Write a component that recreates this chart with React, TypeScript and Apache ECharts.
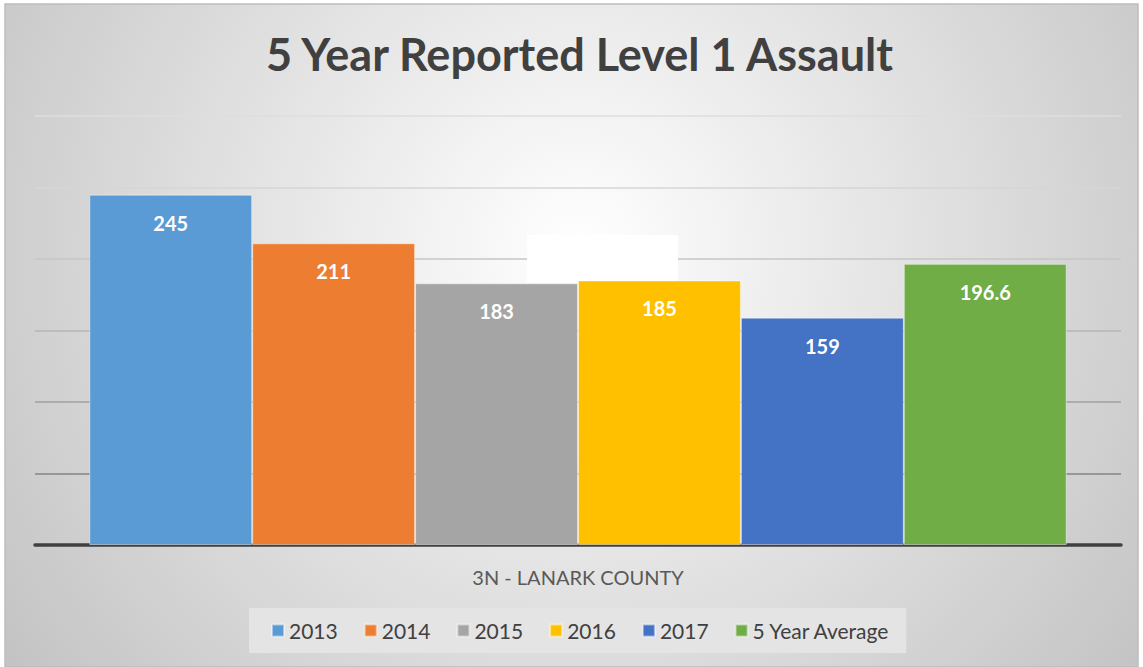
import React, { useEffect, useRef } from "react";
import * as echarts from "echarts";

const categories = ["3N - LANARK COUNTY"];
const seriesNames = ["2013", "2014", "2015", "2016", "2017", "5 Year Average"];
const seriesValues = [245, 211, 183, 185, 159, 196.6];
const seriesColors = ["#5b9bd5", "#ed7d31", "#a5a5a5", "#ffc000", "#4472c4", "#70ad47"];
const gridLineColors = ["#808080", "#848484", "#a0a0a0", "#b6b6b6", "#c6c6c6", "#d6d6d6", "#dedede"];

export default function App() {
  const ref = useRef<HTMLDivElement>(null);
  useEffect(() => {
    if (!ref.current) return;
    const chart = echarts.init(ref.current, undefined, { renderer: "svg" });
    const option: any = {
      animation: false,
      backgroundColor: "#ffffff",
      title: {
        text: "5 Year Reported Level 1 Assault",
        left: 261,
        top: 26,
        textStyle: { fontFamily: "Lato", fontWeight: "bold", fontSize: 45, color: "#404040" },
      },
      graphic: [
        {
          type: "rect",
          z: -10,
          shape: { x: 5, y: 4, width: 1133, height: 663 },
          style: {
            fill: {
              type: "radial",
              x: 578,
              y: 250,
              r: 720,
              global: true,
              colorStops: [
                { offset: 0, color: "#ffffff" },
                { offset: 1, color: "#c2c2c2" },
              ],
            },
            stroke: "#bdbdbd",
            lineWidth: 1.5,
          },
        },
        {
          type: "rect",
          z: 1,
          shape: { x: 527, y: 235, width: 151, height: 48 },
          style: { fill: "#ffffff" },
        },
      ],
      legend: {
        data: seriesNames,
        bottom: 14,
        left: 249,
        icon: "rect",
        itemWidth: 12,
        itemHeight: 12,
        itemGap: 26,
        padding: [12, 16, 12, 22],
        backgroundColor: "#e4e4e4",
        textStyle: { fontFamily: "Lato", fontSize: 21, color: "#404040" },
      },
      grid: { left: 35, right: 22, top: 116, bottom: 122 },
      xAxis: {
        type: "category",
        data: categories,
        axisLine: { show: true, lineStyle: { color: "#404040", width: 3.5 } },
        axisTick: { show: false },
        axisLabel: { margin: 22, fontFamily: "Lato", fontSize: 20, color: "#595959" },
      },
      yAxis: {
        type: "value",
        min: 0,
        max: 300,
        interval: 50,
        axisLine: { show: false },
        axisTick: { show: false },
        axisLabel: { show: false },
        splitLine: { show: true, lineStyle: { color: gridLineColors, width: 1.5 } },
      },
      series: seriesNames.map((name, i) => ({
        name,
        type: "bar",
        data: [seriesValues[i]],
        barGap: "0%",
        barCategoryGap: "10%",
        itemStyle: { color: seriesColors[i], borderColor: "rgba(255,255,255,0.45)", borderWidth: 1 },
        label: {
          show: true,
          position: "insideTop",
          distance: 18,
          fontFamily: "Lato",
          fontWeight: "bold",
          fontSize: 20,
          color: "#ffffff",
        },
      })),
    };
    chart.setOption(option);
    return () => chart.dispose();
  }, []);
  return (
    <div
      ref={ref}
      style={{ position: "absolute", left: 0, top: 0, width: 1143, height: 667 }}
    />
  );
}
